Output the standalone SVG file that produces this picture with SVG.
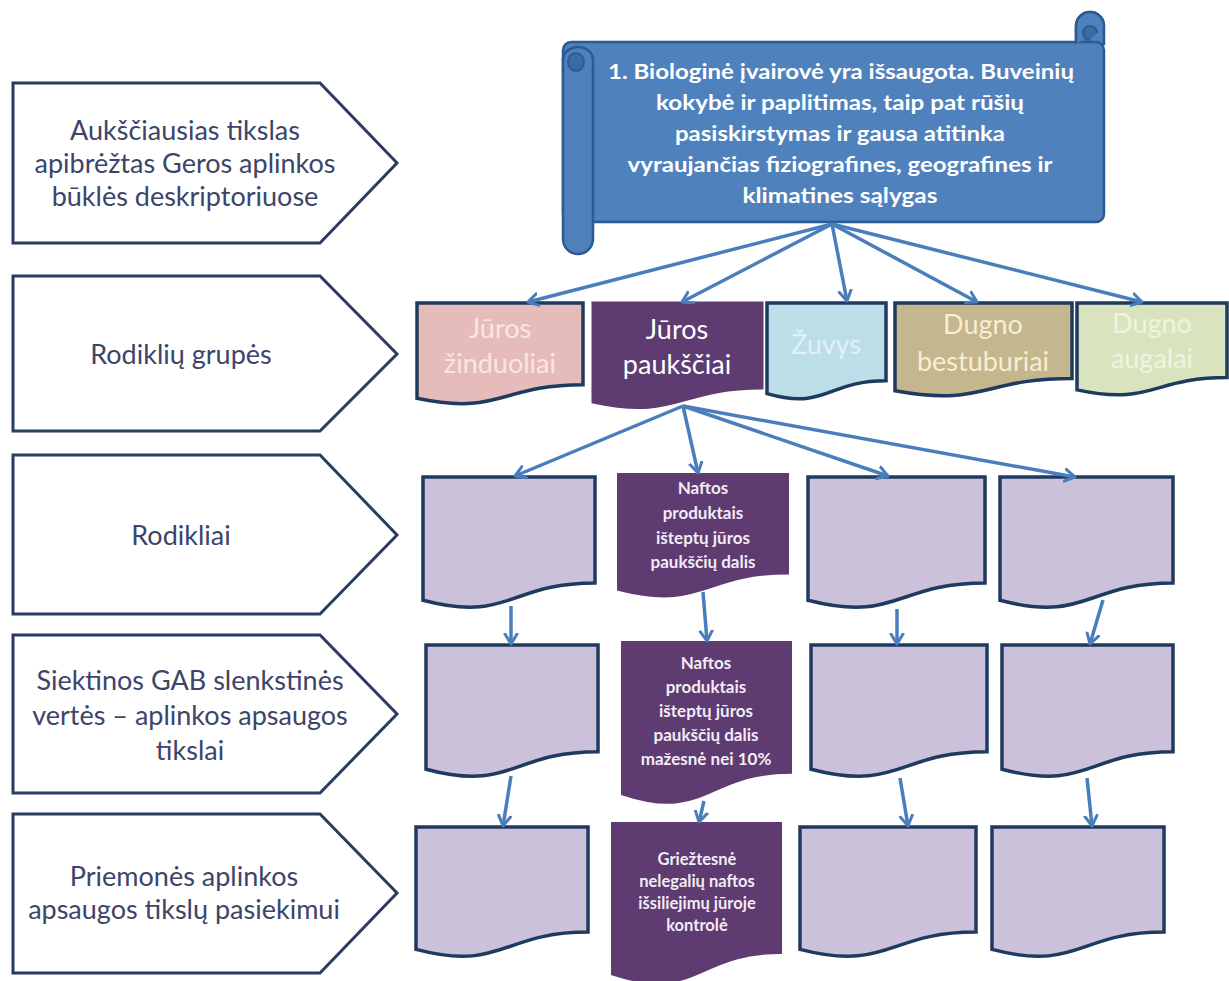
<svg xmlns="http://www.w3.org/2000/svg" width="1229" height="981" viewBox="0 0 1229 981">
<defs>
<marker id="ah" markerUnits="userSpaceOnUse" markerWidth="16" markerHeight="16" refX="11" refY="7" orient="auto" viewBox="0 0 16 14">
<path d="M1,1 L11,7 L1,13" fill="none" stroke="#4A7EBB" stroke-width="3" stroke-linecap="round" stroke-linejoin="round"/>
</marker>
</defs>
<style>
.pent{fill:#ffffff;stroke:#2B3D5E;stroke-width:3}
.ptxt{font-family:Lato,"Liberation Sans",sans-serif;font-size:27px;fill:#3D4469;text-anchor:middle}
.doc{stroke:#1F3A5F;stroke-width:3.5}
.lav{fill:#CCC1DA}
.pur{fill:#5E3B70;stroke:#5E3B70}
.gtxt{font-family:Lato,"Liberation Sans",sans-serif;font-size:27px;text-anchor:middle}
.wtxt{font-family:Lato,"Liberation Sans",sans-serif;font-weight:bold;fill:#F3ECF7;text-anchor:middle}
.scroll{fill:#4F81BD;stroke:#2C5A91;stroke-width:2.5}
.curl{fill:#3C6AA3;stroke:#2C5A91;stroke-width:2}
.btxt{font-family:Lato,"Liberation Sans",sans-serif;font-weight:bold;font-size:21px;fill:#ffffff;text-anchor:middle}
.con{fill:none;stroke:#4A7EBB;stroke-width:3.5;marker-end:url(#ah)}
</style>
<rect x="0" y="0" width="1229" height="981" fill="#ffffff"/>

<g id="lvl1">
<path class="pent" d="M13,83 H320 L397,163 L320,243 H13 Z"/>
<text class="ptxt" x="185" y="140">Aukščiausias tikslas</text>
<text class="ptxt" x="185" y="173">apibrėžtas Geros aplinkos</text>
<text class="ptxt" x="185" y="206">būklės deskriptoriuose</text>
</g>
<g id="lvl2">
<path class="pent" d="M13,276 H320 L397,354 L320,431 H13 Z"/>
<text class="ptxt" x="181" y="364">Rodiklių grupės</text>
</g>
<g id="lvl3">
<path class="pent" d="M13,455 H320 L397,535 L320,614 H13 Z"/>
<text class="ptxt" x="181" y="545">Rodikliai</text>
</g>
<g id="lvl4">
<path class="pent" d="M13,635 H320 L397,714 L320,793 H13 Z"/>
<text class="ptxt" x="190" y="690">Siektinos GAB slenkstinės</text>
<text class="ptxt" x="190" y="725">vertės – aplinkos apsaugos</text>
<text class="ptxt" x="190" y="760">tikslai</text>
</g>
<g id="lvl5">
<path class="pent" d="M13,814 H320 L397,893 L320,973 H13 Z"/>
<text class="ptxt" x="184" y="886">Priemonės aplinkos</text>
<text class="ptxt" x="184" y="919">apsaugos tikslų pasiekimui</text>
</g>

<g id="banner">
<path class="scroll" d="M1076,44 V26 A14,14 0 0 1 1104,26 V44 Z"/>
<rect class="scroll" x="563" y="42" width="541" height="180" rx="8"/>
<path class="scroll" d="M1076,44 V26 A14,14 0 0 1 1104,26"/>
<path class="curl" d="M1090,40 A7,7 0 0 1 1090,26 A7,7 0 0 1 1097,33"/>
<path class="scroll" d="M563,58 V239 A15,15 0 0 0 593,239 V68"/>
<path class="scroll" d="M563,60 A15,13 0 0 1 593,60 V70"/>
<ellipse class="curl" cx="576" cy="62" rx="8" ry="9"/>
<text class="btxt" x="841" y="79" textLength="466" lengthAdjust="spacingAndGlyphs">1. Biologinė įvairovė yra išsaugota. Buveinių</text>
<text class="btxt" x="840" y="110" textLength="368" lengthAdjust="spacingAndGlyphs">kokybė ir paplitimas, taip pat rūšių</text>
<text class="btxt" x="840" y="141" textLength="330" lengthAdjust="spacingAndGlyphs">pasiskirstymas ir gausa atitinka</text>
<text class="btxt" x="840" y="172" textLength="425" lengthAdjust="spacingAndGlyphs">vyraujančias fiziografines, geografines ir</text>
<text class="btxt" x="840" y="203" textLength="195" lengthAdjust="spacingAndGlyphs">klimatines sąlygas</text>
</g>

<g id="g-zinduoliai">
<path class="doc" fill="#E6BCBA" d="M417,303 H583 V384.8 C500,384.8 500,415.9 417,398.3 Z"/>
<text class="gtxt" fill="#F7E6E4" x="500" y="338">Jūros</text>
<text class="gtxt" fill="#F7E6E4" x="500" y="373">žinduoliai</text>
</g>
<g id="g-pauksciai">
<path class="pur" stroke-width="3" d="M593,303 H762 V388 C677.5,388 677.5,420.3 593,402 Z"/>
<text class="gtxt" fill="#ffffff" x="677" y="339">Jūros</text>
<text class="gtxt" fill="#ffffff" x="677" y="374">paukščiai</text>
</g>
<g id="g-zuvys">
<path class="doc" fill="#BCDEE8" d="M767,303 H886 V380.8 C826.5,380.8 826.5,410.4 767,393.6 Z"/>
<text class="gtxt" fill="#E2F1F5" x="826" y="354">Žuvys</text>
</g>
<g id="g-bestuburiai">
<path class="doc" fill="#C4B68D" d="M895,303 H1072 V378.4 C983.5,378.4 983.5,407 895,390.8 Z"/>
<text class="gtxt" fill="#F7EED3" x="983" y="334">Dugno</text>
<text class="gtxt" fill="#F7EED3" x="983" y="371">bestuburiai</text>
</g>
<g id="g-augalai">
<path class="doc" fill="#D9E3BE" d="M1077,303 H1227 V377.6 C1152,377.6 1152,406 1077,389.9 Z"/>
<text class="gtxt" fill="#EFF4E0" x="1152" y="333">Dugno</text>
<text class="gtxt" fill="#EFF4E0" x="1152" y="368">augalai</text>
</g>

<g id="r3a"><path class="doc lav" d="M423,477 H595 V582.9 C509,582.9 509,623.1 423,600.3 Z"/></g>
<g id="r3b">
<path class="pur" stroke-width="2" d="M618,474 H788 V573.4 C703,573.4 703,611.3 618,589.8 Z"/>
<text class="wtxt" font-size="17" x="703" y="494">Naftos</text>
<text class="wtxt" font-size="17" x="703" y="519">produktais</text>
<text class="wtxt" font-size="17" x="703" y="544">išteptų jūros</text>
<text class="wtxt" font-size="17" x="703" y="568">paukščių  dalis</text>
</g>
<g id="r3c"><path class="doc lav" d="M808,477 H985 V582.9 C896.5,582.9 896.5,623.1 808,600.3 Z"/></g>
<g id="r3d"><path class="doc lav" d="M1000,477 H1173 V582.9 C1086.5,582.9 1086.5,623.1 1000,600.3 Z"/></g>

<g id="r4a"><path class="doc lav" d="M426,645 H598 V751.7 C512,751.7 512,792.2 426,769.2 Z"/></g>
<g id="r4b">
<path class="pur" stroke-width="2" d="M622,642 H791 V772.7 C706.5,772.7 706.5,822.4 622,794.2 Z"/>
<text class="wtxt" font-size="17" x="706" y="669">Naftos</text>
<text class="wtxt" font-size="17" x="706" y="693">produktais</text>
<text class="wtxt" font-size="17" x="706" y="717">išteptų jūros</text>
<text class="wtxt" font-size="17" x="706" y="741">paukščių dalis</text>
<text class="wtxt" font-size="17" x="706" y="765">mažesnė  nei 10%</text>
</g>
<g id="r4c"><path class="doc lav" d="M811,645 H987 V751.7 C899,751.7 899,792.2 811,769.2 Z"/></g>
<g id="r4d"><path class="doc lav" d="M1002,645 H1173 V751.7 C1087.5,751.7 1087.5,792.2 1002,769.2 Z"/></g>

<g id="r5a"><path class="doc lav" d="M416,827 H588 V932.1 C502,932.1 502,972 416,949.4 Z"/></g>
<g id="r5b">
<path class="pur" stroke-width="2" d="M612,823 H781 V952.9 C696.5,952.9 696.5,1002.3 612,974.3 Z"/>
<text class="wtxt" font-size="16.5" x="697" y="865">Griežtesnė</text>
<text class="wtxt" font-size="16.5" x="697" y="887">nelegalių naftos</text>
<text class="wtxt" font-size="16.5" x="697" y="909">išsiliejimų jūroje</text>
<text class="wtxt" font-size="16.5" x="697" y="931">kontrolė</text>
</g>
<g id="r5c"><path class="doc lav" d="M800,827 H976 V932.1 C888,932.1 888,972 800,949.4 Z"/></g>
<g id="r5d"><path class="doc lav" d="M992,827 H1164 V932.1 C1078,932.1 1078,972 992,949.4 Z"/></g>

<g id="connectors">
<line class="con" x1="832" y1="224" x2="528" y2="302"/>
<line class="con" x1="832" y1="224" x2="682" y2="302"/>
<line class="con" x1="832" y1="224" x2="847" y2="301"/>
<line class="con" x1="832" y1="224" x2="977" y2="302"/>
<line class="con" x1="832" y1="224" x2="1142" y2="302"/>
<line class="con" x1="683" y1="406" x2="515" y2="476"/>
<line class="con" x1="683" y1="406" x2="698" y2="473"/>
<line class="con" x1="683" y1="406" x2="888" y2="476"/>
<line class="con" x1="683" y1="406" x2="1075" y2="477"/>
<line class="con" x1="511" y1="606" x2="511" y2="644"/>
<line class="con" x1="703" y1="592" x2="707" y2="641"/>
<line class="con" x1="897" y1="609" x2="897" y2="644"/>
<line class="con" x1="1103" y1="600" x2="1090" y2="644"/>
<line class="con" x1="511" y1="776" x2="503" y2="826"/>
<line class="con" x1="704" y1="801" x2="699" y2="822"/>
<line class="con" x1="900" y1="778" x2="908" y2="826"/>
<line class="con" x1="1087" y1="778" x2="1092" y2="826"/>
</g>
</svg>
